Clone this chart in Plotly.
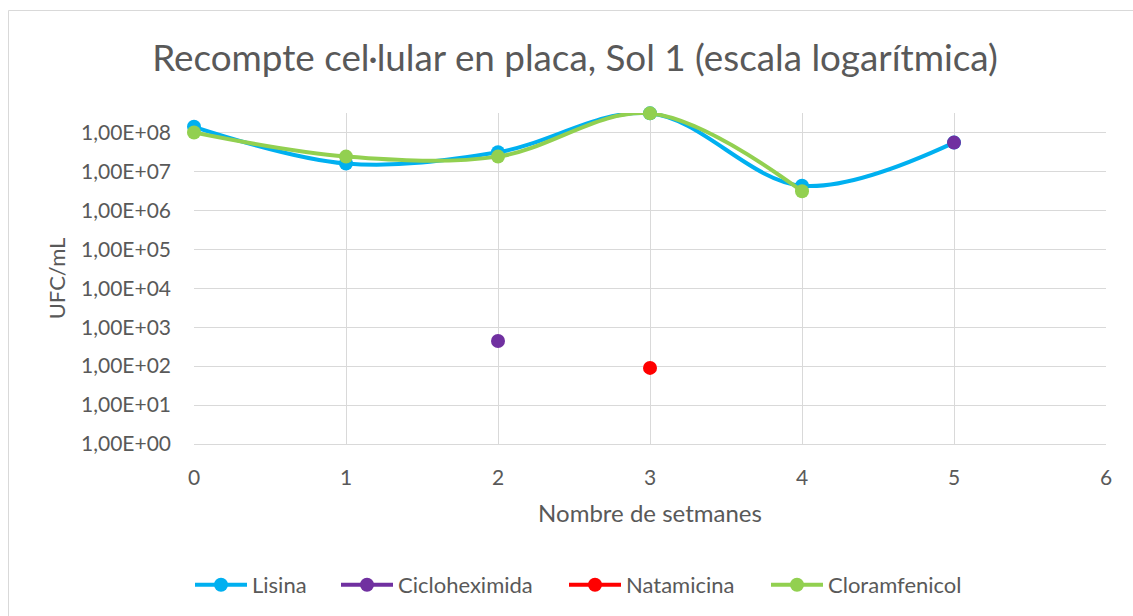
import plotly.graph_objects as go

weeks = [0, 1, 2, 3, 4, 5]
lisina = [1.4e8, 1.6e7, 3.1e7, 3.1e8, 4.3e6, 5.5e7]
cicloheximida = [None, None, 4.4e2, None, None, 5.5e7]
natamicina = [None, None, None, 9.0e1, None, None]
cloramfenicol = [1.0e8, 2.4e7, 2.4e7, 3.1e8, 3.1e6, None]

y_tickvals = [1e0, 1e1, 1e2, 1e3, 1e4, 1e5, 1e6, 1e7, 1e8]
y_ticktext = ["1,00E+00", "1,00E+01", "1,00E+02", "1,00E+03", "1,00E+04",
              "1,00E+05", "1,00E+06", "1,00E+07", "1,00E+08"]
x_tickvals = [0, 1, 2, 3, 4, 5, 6]

series = [
    ("Lisina", lisina, "#00B0F0"),
    ("Cicloheximida", cicloheximida, "#7030A0"),
    ("Natamicina", natamicina, "#FF0000"),
    ("Cloramfenicol", cloramfenicol, "#92D050"),
]

FONT = "Lato, 'Open Sans', sans-serif"
GREY = "#595959"

W, H = 1133, 616
L, R, T, B = 194, 27, 113, 172
pw, ph = W - L - R, H - T - B

# left pixel where each legend entry starts (one legend per series)
legend_left_px = [190, 336, 564, 766]
legend_names = ["legend", "legend2", "legend3", "legend4"]

fig = go.Figure()
for (name, vals, col), lg in zip(series, legend_names):
    fig.add_trace(go.Scatter(
        x=weeks, y=vals, name=name, mode="lines+markers",
        line=dict(color=col, width=4, shape="spline", smoothing=1),
        marker=dict(color=col, size=14),
        connectgaps=False, cliponaxis=False, legend=lg,
    ))


def px(xp):
    return (xp - L) / pw


def py(yp):
    return 1 - (yp - T) / ph


legend_layout = {}
for lg, lx in zip(legend_names, legend_left_px):
    legend_layout[lg] = dict(
        orientation="h", xref="container", yref="container",
        x=lx / W, xanchor="left", y=1 - 585 / H, yanchor="middle",
        font=dict(size=22, color=GREY, family=FONT),
        itemwidth=52, bgcolor="rgba(0,0,0,0)", borderwidth=0,
    )

fig.update_layout(
    width=W, height=H,
    margin=dict(l=L, r=R, t=T, b=B, autoexpand=False),
    paper_bgcolor="white", plot_bgcolor="white",
    font=dict(family=FONT, color=GREY, size=21),
    title=dict(text="Recompte cel·lular en placa, Sol 1 (escala logarítmica)",
               x=575 / W, xanchor="center", y=1 - 58 / H, yanchor="middle",
               font=dict(size=36.8, color=GREY, family=FONT)),
    showlegend=True,
    xaxis=dict(range=[0, 6], tickvals=x_tickvals, showgrid=True,
               gridcolor="#D9D9D9", gridwidth=1, zeroline=False,
               showline=True, linecolor="#D9D9D9", linewidth=1, mirror=False,
               ticks="", ticklabelstandoff=15,
               tickfont=dict(size=21, color=GREY),
               title=dict(text="Nombre de setmanes", standoff=16,
                          font=dict(size=24, color=GREY))),
    yaxis=dict(type="log", range=[0, 8.5], tickvals=y_tickvals,
               ticktext=y_ticktext, showgrid=True, gridcolor="#D9D9D9",
               gridwidth=1, zeroline=False, showline=False, ticks="",
               ticklabelstandoff=22,
               tickfont=dict(size=21, color=GREY),
               title=dict(text="UFC/mL", standoff=9,
                          font=dict(size=22, color=GREY))),
    **legend_layout,
)

# outer chart border
fig.add_shape(type="rect", xref="paper", yref="paper",
              x0=px(8.5), x1=px(1140), y0=py(625), y1=py(10.5),
              line=dict(color="#D9D9D9", width=1), fillcolor="rgba(0,0,0,0)",
              layer="below")

fig.write_html("out.html", config={"displayModeBar": False},
               post_script="document.body.style.margin='0px';")
